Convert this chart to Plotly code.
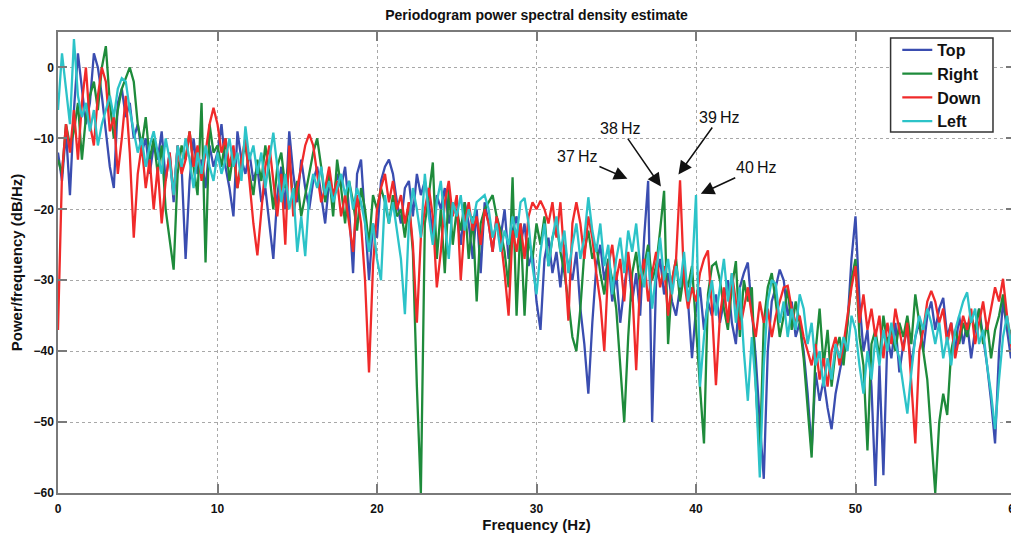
import plotly.graph_objects as go

# Frequency grid (Hz), 0.25 Hz spacing
freq = [i * 0.25 for i in range(241)]

top = (
    [-12, -16, -9, -18, -6, 2, -3, -8, -5, 2, 0, -4, -9, -14, -17, -5, -3, -7, -5, -10]
    + [-8, -12, -10, -15, -11, -13, -9, -16, -12, -19, -11, -14, -27, -16, -10, -15, -13, -17, -11, -14]
    + [-12, -8, -14, -17, -21, -9, -13, -15, -12, -16, -14, -19, -17, -22, -27, -18, -14, -20, -9, -15]
    + [-19, -13, -17, -20, -16, -14, -18, -22, -16, -19, -15, -17, -14, -20, -29, -15, -13, -21, -30, -22]
    + [-24, -16, -14, -13, -15, -19, -22, -17, -16, -21, -15, -18, -16, -19, -24, -18, -20, -17, -22, -19]
    + [-21, -25, -19, -22, -27, -20, -29, -19, -22, -26, -21, -24, -20, -27, -23, -21, -25, -22, -28, -26]
    + [-33, -37, -27, -24, -29, -26, -31, -25, -28, -30, -26, -34, -39, -46, -36, -28, -25, -30, -27, -33]
    + [-29, -36, -31, -27, -33, -29, -35, -24, -16, -50, -30, -27, -32, -29, -33, -35, -31, -28, -33, -41]
    + [-34, -31, -37, -33, -35, -32, -36, -33, -30, -36, -39, -31, -29, -27.5, -34, -41, -50, -58, -40, -33]
    + [-31, -28.5, -30, -35, -33, -38, -36, -40, -46, -54, -43, -47, -44, -48, -51, -46, -43, -40, -36, -27]
    + [-21, -33, -40, -37, -45, -59, -42, -57.5, -38, -41, -36, -43, -39, -37, -42, -38, -36, -40, -35, -33]
    + [-37, -34, -32.5, -38, -36, -40, -35, -39, -36, -41, -37, -34, -38, -42, -47, -53, -40, -33, -37, -41]
    + [-36]
)

right = (
    [-13, -15, -8, -11, -9, -5, -13, -7, -4, -2, -6, 0, 3, -5, -10, -6, -3, -1.5, 0, -2]
    + [-8, -11, -7, -13, -10, -15, -11, -20, -24, -28.5, -15, -11, -13, -9, -14, -18, -5, -27.5, -8, -12]
    + [-11, -14, -10, -16, -12, -17, -13, -11, -15, -18, -13, -16, -11, -15, -20, -14, -12, -17, -13, -19]
    + [-16, -21, -18, -15, -12, -10, -14, -19, -15, -21, -13, -17, -22, -16, -19, -23, -17, -20, -25, -18]
    + [-20, -17, -19, -22, -18, -21, -20, -24, -19, -26, -45, -60, -22, -18, -13.4, -27, -20, -29, -17, -25]
    + [-20, -23, -19, -27, -21, -33, -22, -20, -19, -18, -21, -23, -26, -31, -15.5, -35, -22, -35, -24, -27]
    + [-22, -25, -21, -28, -24, -22, -26, -29, -33, -38, -40, -34, -26, -23, -27, -25, -29, -32, -27, -30]
    + [-34, -42, -50, -38, -29, -26, -31, -28, -25, -30, -28, -23, -17.4, -39, -30, -27, -33, -29, -31, -28]
    + [-37, -45, -53, -32, -28, -27.5, -30, -34, -37, -31, -27.3, -38, -30, -33, -31, -45, -55, -36, -31, -29]
    + [-33, -38, -35, -31, -37, -33, -36, -41, -48, -55, -40, -34, -42, -37, -45, -40, -38, -42, -36, -30]
    + [-27, -38, -42, -54, -39, -37, -41, -35, -39, -37, -40, -36, -38, -35, -39, -32, -36, -40, -44, -52]
    + [-60, -50, -46, -49, -40, -37, -39, -36, -38, -35, -37, -34, -39, -36, -41, -37, -35, -32, -36, -38]
    + [-33]
)

down = (
    [-37, -15, -8, -12, -6, -13, -5, 0, -8, -11, -4, 0, -2, -9, -7, -15, -10, -4, -12, -24]
    + [-15, -11, -17, -13, -20, -14, -22, -16, -12, -18, -11, -15, -13, -9, -14, -11, -16, -12, -8, -5.7]
    + [-8, -12, -10, -14, -11, -17, -13, -10, -16, -22, -26.5, -20, -14, -11, -16, -21, -15, -25, -11, -21]
    + [-17, -14, -11, -9.4, -11, -15, -19, -17, -14, -18, -16, -21, -18, -22, -26, -18, -22, -30, -43, -28]
    + [-20, -17, -15, -19, -16, -20, -18, -22, -19, -25, -36, -24, -20, -17, -21, -31, -26, -19, -16, -21]
    + [-18, -30, -22, -19, -23, -21, -25, -20, -22, -26, -21, -24, -29, -35, -23, -26, -22, -27, -21, -19]
    + [-20, -18.8, -20, -22, -19, -24, -19, -27, -35.7, -22, -19, -22, -27, -21, -24, -29, -33, -40, -28, -25]
    + [-30, -27, -33, -26, -31, -42.7, -30, -27, -33, -29, -26, -31, -28, -35, -30, -27, -15.9, -30, -34, -31]
    + [-33, -29, -27, -25.8, -34, -44.8, -35, -31, -36, -29, -33, -37, -34, -31, -35, -38, -33, -36, -34, -38]
    + [-35, -33, -31, -30.8, -34, -36, -35, -38, -40, -42, -39, -44, -41, -45, -40, -38, -42, -39, -35, -31]
    + [-28, -36, -32, -37, -34, -38, -35, -41, -36, -39, -34, -37, -40, -36, -45, -53, -40, -37, -33, -31.5]
    + [-33, -36, -34, -39, -36, -41, -38, -35, -37, -34, -39, -36, -33, -37, -34, -31, -33, -29.8, -35, -39]
    + [-42]
)

left = (
    [-6, 2, -3, -8, 4, -4, -7, -5, -9, -6, -11, -8, -6, -4, -7, -3, -1.5, -2, -6, -9]
    + [-12, -10, -14, -11, -9, -12, -15, -10, -13, -18, -11, -14, -10, -13, -17, -12, -15, -11, -14, -16]
    + [-12, -15, -13, -10, -14, -12, -16, -8.3, -13, -11, -15, -12, -17, -13, -9.2, -14, -19, -15, -20, -17]
    + [-26, -21, -26.6, -18, -15, -17, -14, -18, -16, -19, -17, -15, -18, -16, -20, -17, -19, -22, -26, -22]
    + [-27, -30, -18, -22, -19, -23, -27, -34.8, -22, -17, -20, -24, -15, -21, -25, -19, -16, -22, -27, -19]
    + [-21, -18, -23, -20, -22, -19, -18.5, -18, -20, -24, -22, -26, -23, -25, -21, -24, -19, -18.4, -22, -28]
    + [-32, -26, -22, -28, -24, -21, -26, -23, -29, -25, -22, -27, -24, -18.3, -23, -26, -22, -28, -25, -32]
    + [-27, -24, -29, -23, -26, -22, -28, -31, -26, -34, -29, -24, -30, -27, -32, -28, -31, -26, -33, -29]
    + [-18, -45, -38, -33, -30, -35, -31, -27, -33, -29, -36, -31, -40, -47, -38, -45, -57.8, -42, -33, -30]
    + [-30.5, -36, -33, -38, -34, -37, -32, -34, -39, -36, -42, -40, -45, -41, -44, -39, -41, -38, -40, -35]
    + [-37, -42, -46, -40, -44, -38, -42, -37, -40, -36, -39, -41, -45, -48.8, -43, -38, -35, -37, -34, -36]
    + [-39, -36, -41, -38, -42, -37, -35, -33, -31.7, -36, -34, -39, -37, -42, -46, -51, -44, -38, -35, -39]
    + [-37]
)

series_names = ["Top", "Right", "Down", "Left"]
series_values = [top, right, down, left]
colors = ["#3A4DB0", "#1E8B3B", "#F02A2A", "#2CC3C8"]

x_ticks = [0, 10, 20, 30, 40, 50, 60]
y_ticks = [0, -10, -20, -30, -40, -50, -60]

# Peak annotations: label, peak frequency, peak level
peak_labels = ["37\u2009Hz", "38\u2009Hz", "39\u2009Hz", "40\u2009Hz"]
peak_freqs = [35.7, 37.8, 38.9, 40.3]
peak_levels = [-15.7, -16.8, -15.1, -17.8]
label_offsets = [(-50, -22), (-40, -58), (41, -57), (56, -26)]

fig = go.Figure()
for name, vals, col in zip(series_names, series_values, colors):
    fig.add_trace(go.Scatter(x=freq, y=vals, mode="lines", name=name,
                             line=dict(color=col, width=2.3)))

FONT = "Liberation Sans, Arial, sans-serif"
axis_common = dict(
    showgrid=True, gridcolor="#a8a8a8", griddash="dot", gridwidth=1,
    showline=True, linecolor="#7a7a7a", linewidth=1.5, mirror="ticks",
    ticks="inside", ticklen=9, tickcolor="#7a7a7a", tickwidth=1.5,
    zeroline=False, ticklabeloverflow="allow", automargin=False,
    tickfont=dict(family=FONT, size=12, color="#111", weight="bold"),
)

# The page body has an 8px margin, so the figure is sized to fit inside it.
FIG_W, FIG_H = 1011, 527

fig.update_layout(
    width=FIG_W, height=FIG_H, autosize=False,
    paper_bgcolor="white", plot_bgcolor="white",
    margin=dict(l=50, r=4, t=24, b=42),
    title=dict(text="Periodogram power spectral density estimate",
               x=0.5, xref="paper", xanchor="center",
               y=1 - 7 / FIG_H, yref="container", yanchor="middle",
               font=dict(family=FONT, size=14, color="#111", weight="bold")),
    xaxis=dict(range=[0, 60], tickvals=x_ticks, ticklabelstandoff=4,
               title=dict(text="Frequency (Hz)", standoff=0,
                          font=dict(family=FONT, size=15, color="#111", weight="bold")),
               **axis_common),
    yaxis=dict(range=[-60, 5], tickvals=y_ticks,
               title=dict(text="Power/frequency (dB/Hz)", standoff=8,
                          font=dict(family=FONT, size=15, color="#111", weight="bold")),
               **axis_common),
    legend=dict(x=0.877, xanchor="left", y=0.998, yanchor="top",
                bgcolor="rgba(0,0,0,0)", borderwidth=0,
                font=dict(family=FONT, size=16, color="#111", weight="bold"),
                tracegroupgap=0),
    showlegend=True,
    shapes=[dict(type="rect", xref="paper", yref="paper",
                 x0=0.870, x1=0.977, y0=0.783, y1=0.987, layer="above",
                 fillcolor="white", line=dict(color="#333", width=1.5))],
)

for lab, fx, fy, (axo, ayo) in zip(peak_labels, peak_freqs, peak_levels, label_offsets):
    fig.add_annotation(x=fx, y=fy, ax=axo, ay=ayo, text=lab, showarrow=True,
                       arrowhead=2, arrowsize=1.8, arrowwidth=1.5, arrowcolor="#111",
                       font=dict(family=FONT, size=16, color="#111"))

fig.write_html("out.html")
